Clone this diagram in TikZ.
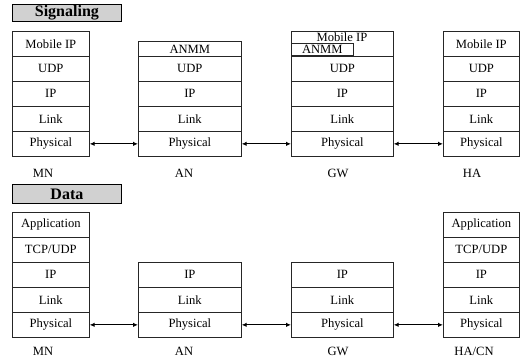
\documentclass[tikz,border=0pt]{standalone}
\usepackage{fontspec}
\setmainfont{Liberation Serif}
\usetikzlibrary{arrows.meta}
\begin{document}
\begin{tikzpicture}[x=1pt,y=-1pt,
  layer/.style={draw=black!85,line width=0.7pt,inner sep=0pt,anchor=north west,minimum height=25pt,font=\fontsize{12.6}{14}\selectfont},
  lbl/.style={inner sep=0pt,font=\fontsize{12.6}{14}\selectfont},
  title/.style={draw=black,line width=0.8pt,fill=black!18,inner sep=0pt,anchor=north west,minimum width=109pt,font=\fontsize{16}{18}\selectfont\bfseries},
  link/.style={line width=1.2pt,{Latex[length=5pt,width=4.5pt]}-{Latex[length=5pt,width=4.5pt]}}]
\useasboundingbox (0,0) rectangle (527,359);
% ---------- Signaling ----------
\node[title,minimum height=17pt] (tsig) at (12,4) {Signaling};
% MN
\node[layer,minimum width=77pt] (smn1) at (12,31) {Mobile IP};
\node[layer,minimum width=77pt] (smn2) at (12,56) {UDP};
\node[layer,minimum width=77pt] (smn3) at (12,81) {IP};
\node[layer,minimum width=77pt] (smn4) at (12,106) {Link};
\node[layer,minimum width=77pt] (smn5) at (12,131) {Physical};
% AN
\node[layer,minimum width=103pt,minimum height=15pt] (san1) at (138,41) {ANMM};
\node[layer,minimum width=103pt] (san2) at (138,56) {UDP};
\node[layer,minimum width=103pt] (san3) at (138,81) {IP};
\node[layer,minimum width=103pt] (san4) at (138,106) {Link};
\node[layer,minimum width=103pt] (san5) at (138,131) {Physical};
% GW
\node[layer,minimum width=102pt] (sgw1) at (291,31) {};
\node[lbl] (sgwmip) at (342,37) {Mobile IP};
\node[layer,minimum width=62pt,minimum height=12pt,anchor=south west] (sgwanmm) at (291,56) {ANMM};
\node[layer,minimum width=102pt] (sgw2) at (291,56) {UDP};
\node[layer,minimum width=102pt] (sgw3) at (291,81) {IP};
\node[layer,minimum width=102pt] (sgw4) at (291,106) {Link};
\node[layer,minimum width=102pt] (sgw5) at (291,131) {Physical};
% HA
\node[layer,minimum width=76pt] (sha1) at (443,31) {Mobile IP};
\node[layer,minimum width=76pt] (sha2) at (443,56) {UDP};
\node[layer,minimum width=76pt] (sha3) at (443,81) {IP};
\node[layer,minimum width=76pt] (sha4) at (443,106) {Link};
\node[layer,minimum width=76pt] (sha5) at (443,131) {Physical};
% labels
\node[lbl] (lsmn) at (43,173) {MN};
\node[lbl] (lsan) at (184,173) {AN};
\node[lbl] (lsgw) at (338,173) {GW};
\node[lbl] (lsha) at (472,173) {HA};
% links
\draw[link] (smn5.east) -- (san5.west);
\draw[link] (san5.east) -- (sgw5.west);
\draw[link] (sgw5.east) -- (sha5.west);
% ---------- Data ----------
\node[title,minimum height=19pt] (tdata) at (12,184) {Data};
% MN
\node[layer,minimum width=77pt] (dmn1) at (12,212) {Application};
\node[layer,minimum width=77pt] (dmn2) at (12,237) {TCP/UDP};
\node[layer,minimum width=77pt] (dmn3) at (12,262) {IP};
\node[layer,minimum width=77pt] (dmn4) at (12,287) {Link};
\node[layer,minimum width=77pt] (dmn5) at (12,312) {Physical};
% AN
\node[layer,minimum width=103pt] (dan3) at (138,262) {IP};
\node[layer,minimum width=103pt] (dan4) at (138,287) {Link};
\node[layer,minimum width=103pt] (dan5) at (138,312) {Physical};
% GW
\node[layer,minimum width=102pt] (dgw3) at (291,262) {IP};
\node[layer,minimum width=102pt] (dgw4) at (291,287) {Link};
\node[layer,minimum width=102pt] (dgw5) at (291,312) {Physical};
% HA/CN
\node[layer,minimum width=76pt] (dha1) at (443,212) {Application};
\node[layer,minimum width=76pt] (dha2) at (443,237) {TCP/UDP};
\node[layer,minimum width=76pt] (dha3) at (443,262) {IP};
\node[layer,minimum width=76pt] (dha4) at (443,287) {Link};
\node[layer,minimum width=76pt] (dha5) at (443,312) {Physical};
% labels
\node[lbl] (ldmn) at (43,351) {MN};
\node[lbl] (ldan) at (184,351) {AN};
\node[lbl] (ldgw) at (338,351) {GW};
\node[lbl] (ldha) at (474,351) {HA/CN};
% links
\draw[link] (dmn5.east) -- (dan5.west);
\draw[link] (dan5.east) -- (dgw5.west);
\draw[link] (dgw5.east) -- (dha5.west);
\end{tikzpicture}
\end{document}
